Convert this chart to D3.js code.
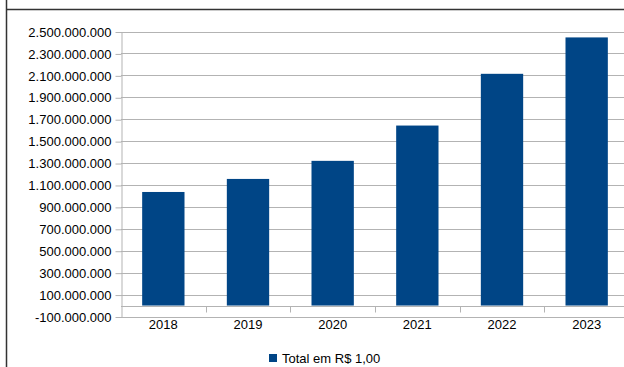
<!DOCTYPE html>
<html>
<head>
<meta charset="utf-8">
<script src="https://cdn.jsdelivr.net/npm/d3@7"></script>
<style>
  body { margin: 0; background: #fff; }
  svg { display: block; font-family: "Liberation Sans", Arial, sans-serif; }
</style>
</head>
<body>
<div id="chart"></div>
<script>
// yearly totals (R$)
var years = ["2018", "2019", "2020", "2021", "2022", "2023"];
var totals = [1036000000, 1155000000, 1320000000, 1642000000, 2114000000, 2446000000];
var yTicks = d3.range(-100000000, 2500000001, 200000000);
var seriesName = "Total em R$ 1,00";

var width = 624, height = 367;
var barColor = "#004586", gridColor = "#b3b3b3";

var br = d3.formatLocale({ decimal: ",", thousands: ".", grouping: [3], currency: ["R$", ""], minus: "-" });
var fmt = br.format(",d");

var svg = d3.select("#chart").append("svg")
    .attr("width", width)
    .attr("height", height);

// frame lines around the sheet
svg.append("line").attr("x1", 6).attr("x2", width).attr("y1", 9.5).attr("y2", 9.5)
    .attr("stroke", "#333").attr("stroke-width", 1.5);
svg.append("line").attr("x1", 6.5).attr("x2", 6.5).attr("y1", 0).attr("y2", height)
    .attr("stroke", "#333").attr("stroke-width", 1.5);

var plot = { left: 121, right: 629, top: 31.5, bottom: 316.5 };

var x = d3.scaleBand()
    .domain(years)
    .range([plot.left, plot.right])
    .paddingInner(0.5)
    .paddingOuter(0.25);

// category slots without padding, used for the separator ticks
var slot = d3.scaleBand().domain(years).range([plot.left, plot.right]);

var y = d3.scaleLinear()
    .domain([-100000000, 2500000000])
    .range([plot.bottom, plot.top]);

// horizontal grid
svg.append("g").selectAll("line")
    .data(yTicks)
    .enter().append("line")
    .attr("x1", plot.left).attr("x2", width)
    .attr("y1", d => Math.round(y(d)) + 0.5).attr("y2", d => Math.round(y(d)) + 0.5)
    .attr("stroke", gridColor);

// y axis
var yAxis = d3.axisLeft(y).tickValues(yTicks).tickFormat(fmt).tickSizeInner(6).tickSizeOuter(0).tickPadding(4);
var gy = svg.append("g").attr("transform", "translate(" + (plot.left + 0.5) + ",0.5)").call(yAxis);
gy.select(".domain").attr("stroke", gridColor);
gy.selectAll(".tick line").attr("stroke", gridColor);
gy.selectAll(".tick text").attr("fill", "#000").style("font-size", "13px")
    .style("font-family", "'Liberation Sans', Arial, sans-serif");

// bars
svg.append("g").selectAll("rect")
    .data(totals)
    .enter().append("rect")
    .attr("x", (d, i) => x(years[i]))
    .attr("width", x.bandwidth())
    .attr("y", d => y(d))
    .attr("height", d => y(0) - y(d))
    .attr("fill", barColor);

// zero line with category separators
var y0 = Math.round(y(0)) + 0.5;
svg.append("line").attr("x1", plot.left).attr("x2", width).attr("y1", y0).attr("y2", y0)
    .attr("stroke", gridColor);
svg.append("g").selectAll("line")
    .data(years.slice(1))
    .enter().append("line")
    .attr("x1", d => Math.round(slot(d)) + 0.5).attr("x2", d => Math.round(slot(d)) + 0.5)
    .attr("y1", y0).attr("y2", y0 + 6)
    .attr("stroke", gridColor);

// category labels below the plot
svg.append("g").selectAll("text")
    .data(years)
    .enter().append("text")
    .attr("x", d => x(d) + x.bandwidth() / 2)
    .attr("y", 329)
    .attr("text-anchor", "middle")
    .style("font-size", "13px")
    .text(d => d);

// legend
var legend = svg.append("g").attr("transform", "translate(269,354)");
legend.append("rect").attr("width", 8).attr("height", 8).attr("fill", barColor);
legend.append("text").attr("x", 13).attr("y", 8.5).style("font-size", "13px").text(seriesName);
</script>
</body>
</html>
